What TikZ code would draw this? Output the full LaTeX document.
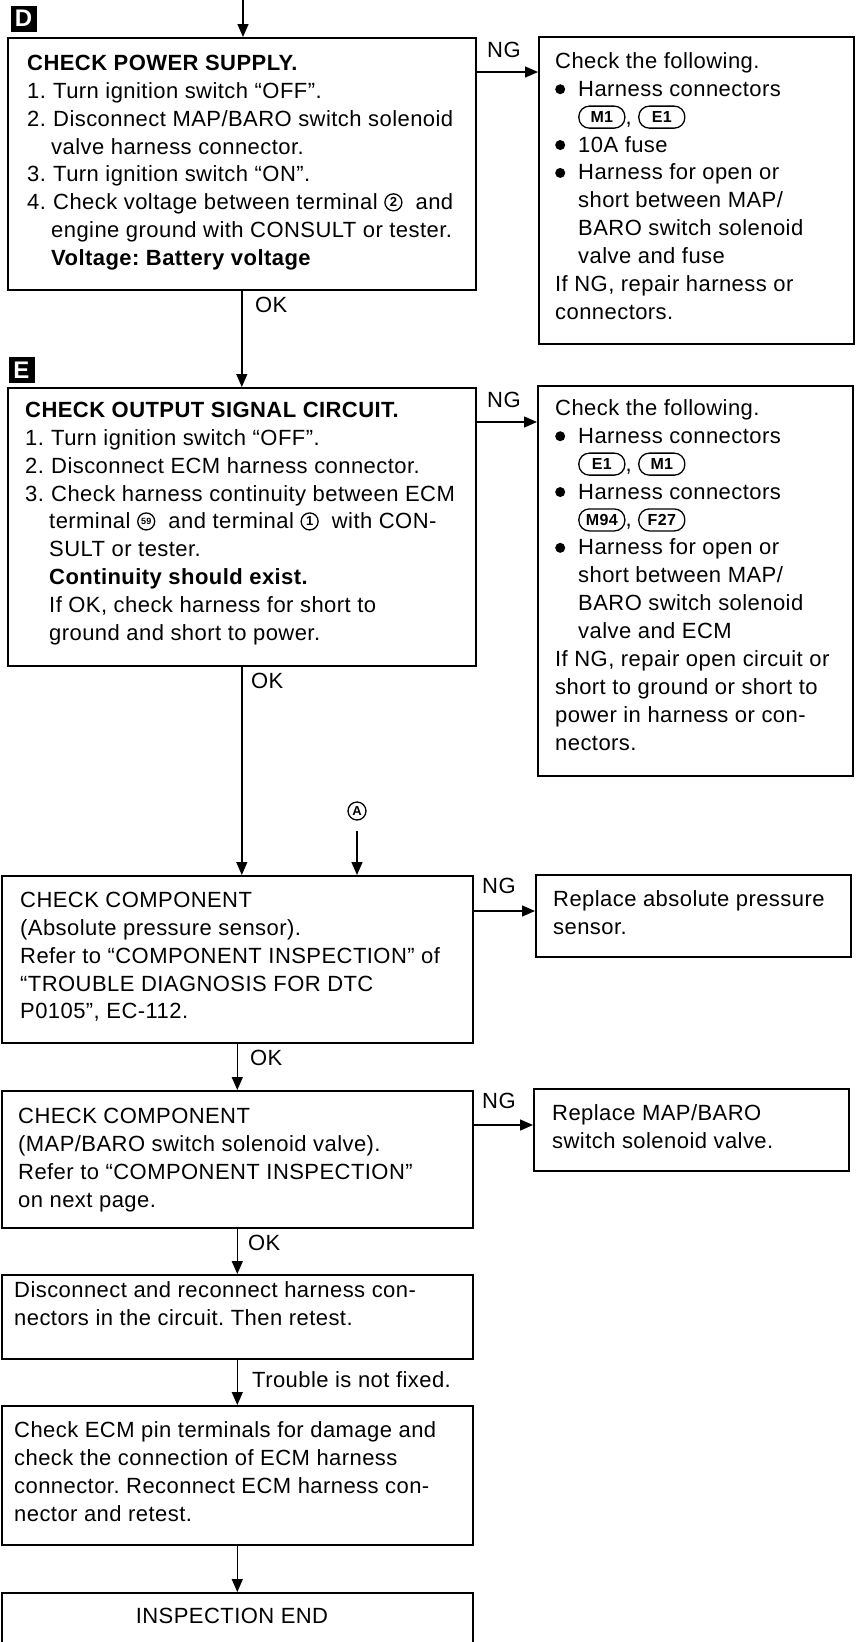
\documentclass[tikz,border=0pt]{standalone}
\usepackage{fontspec}
\setmainfont{Liberation Sans}[LetterSpace=2]
\usetikzlibrary{arrows.meta,positioning}

\tikzset{
  box/.style={draw, line width=1.6pt, rectangle, inner sep=0pt, anchor=north west},
  txt/.style={anchor=north west, inner sep=0pt, align=left, font=\fontsize{22}{27.9}\selectfont},
  lbl/.style={anchor=base west, inner sep=0pt, font=\fontsize{22}{25}\selectfont},
  tag/.style={fill=black, text=white, minimum size=26pt, inner sep=0pt, font=\bfseries\fontsize{24}{24}\selectfont},
  arr/.style={line width=1.4pt, -{Triangle[length=13pt,width=11pt]}},
}
\newcommand{\itm}[1]{\makebox[26pt][l]{#1}}
\newcommand{\cnt}{\hspace*{24pt}}
\newcommand{\bul}{\makebox[23pt][l]{\tikz[baseline={([yshift=-7pt]bb.center)}]\node[circle,fill,inner sep=0pt,minimum size=10pt](bb){};}}
\newcommand{\connector}[1]{\tikz[baseline={([yshift=-7pt]cc.center)}]\node[draw,line width=1.3pt,rounded corners=10.5pt,minimum width=46pt,minimum height=22pt,inner sep=0pt,font=\bfseries\fontsize{16}{16}\selectfont](cc){#1};}
\newcommand{\circnum}[2][13]{\tikz[baseline={([yshift=-7.5pt]cn.center)}]\node[circle,draw,line width=1.3pt,minimum size=17pt,inner sep=0pt,font=\bfseries\fontsize{#1}{#1}\selectfont](cn){#2};}

\begin{document}
\frenchspacing
\begin{tikzpicture}[x=1pt, y=-1pt]
  \useasboundingbox (0,0) rectangle (858,1642);

  % step D
  \node[tag] (tagd) at (23.5,18.5) {D};
  \node[box, minimum width=468pt, minimum height=252pt] (d) at (7,37) {};
  \node[txt] (dtxt) at (27,50.6) {\strut\textbf{CHECK POWER SUPPLY.}\\
    \itm{1.}Turn ignition switch “OFF”.\\
    \itm{2.}Disconnect MAP/BARO switch solenoid\\
    \cnt valve harness connector.\\
    \itm{3.}Turn ignition switch “ON”.\\
    \itm{4.}Check voltage between terminal \circnum{2}\ \ and\\
    \cnt engine ground with CONSULT or tester.\\
    \cnt\textbf{Voltage: Battery voltage}};
  \node[box, minimum width=315pt, minimum height=307pt] (r1) at (538,36) {};
  \node[txt] (r1txt) at (555,48.6) {\strut Check the following.\\
    \bul Harness connectors\\
    \hspace*{23pt}\connector{M1}, \connector{E1}\\
    \bul 10A fuse\\
    \bul Harness for open or\\
    \hspace*{23pt}short between MAP/\\
    \hspace*{23pt}BARO switch solenoid\\
    \hspace*{23pt}valve and fuse\\
    If NG, repair harness or\\
    connectors.};
  \node[lbl] (ngd) at (487,57) {NG};
  \node[lbl] (okd) at (255,312) {OK};

  % step E
  \node[tag] (tage) at (21.5,370) {E};
  \node[box, minimum width=468pt, minimum height=278pt] (e) at (7,387) {};
  \node[txt] (etxt) at (25,397.6) {\strut\textbf{CHECK OUTPUT SIGNAL CIRCUIT.}\\
    \itm{1.}Turn ignition switch “OFF”.\\
    \itm{2.}Disconnect ECM harness connector.\\
    \itm{3.}Check harness continuity between ECM\\
    \cnt terminal \circnum[9]{59}\ \ and terminal \circnum{1}\ \ with CON-\\
    \cnt SULT or tester.\\
    \cnt\textbf{Continuity should exist.}\\
    \cnt If OK, check harness for short to\\
    \cnt ground and short to power.};
  \node[box, minimum width=315pt, minimum height=390pt] (r2) at (537,385) {};
  \node[txt] (r2txt) at (555,395.6) {\strut Check the following.\\
    \bul Harness connectors\\
    \hspace*{23pt}\connector{E1}, \connector{M1}\\
    \bul Harness connectors\\
    \hspace*{23pt}\connector{M94}, \connector{F27}\\
    \bul Harness for open or\\
    \hspace*{23pt}short between MAP/\\
    \hspace*{23pt}BARO switch solenoid\\
    \hspace*{23pt}valve and ECM\\
    If NG, repair open circuit or\\
    short to ground or short to\\
    power in harness or con-\\
    nectors.};
  \node[lbl] (nge) at (487,407) {NG};
  \node[lbl] (oke) at (251,688) {OK};

  % components
  \node[circle, draw, line width=1.3pt, minimum size=18pt, inner sep=0pt, font=\bfseries\fontsize{13}{13}\selectfont] (a) at (357,811) {A};
  \node[box, minimum width=471pt, minimum height=167pt] (c3) at (1,875) {};
  \node[txt] (c3txt) at (20,887.6) {\strut CHECK COMPONENT\\
    (Absolute pressure sensor).\\
    Refer to “COMPONENT INSPECTION” of\\
    “TROUBLE DIAGNOSIS FOR DTC\\
    P0105”, EC-112.};
  \node[box, minimum width=315pt, minimum height=82pt] (rep1) at (535,874) {};
  \node[txt] (rep1txt) at (553,886.6) {\strut Replace absolute pressure\\sensor.};
  \node[lbl] (ng3) at (482,893) {NG};
  \node[lbl] (ok3) at (250,1065) {OK};

  \node[box, minimum width=471pt, minimum height=137pt] (c4) at (1,1090) {};
  \node[txt] (c4txt) at (18,1103.6) {\strut CHECK COMPONENT\\
    (MAP/BARO switch solenoid valve).\\
    Refer to “COMPONENT INSPECTION”\\
    on next page.};
  \node[box, minimum width=315pt, minimum height=82pt] (rep2) at (533,1088) {};
  \node[txt] (rep2txt) at (552,1100.6) {\strut Replace MAP/BARO\\switch solenoid valve.};
  \node[lbl] (ng4) at (482,1108) {NG};
  \node[lbl] (ok4) at (248,1250) {OK};

  \node[box, minimum width=471pt, minimum height=84pt] (c5) at (1,1274) {};
  \node[txt] (c5txt) at (14,1277.6) {\strut Disconnect and reconnect harness con-\\
    nectors in the circuit. Then retest.};
  \node[lbl] (notfixed) at (252,1387) {Trouble is not fixed.};

  \node[box, minimum width=471pt, minimum height=139pt] (c6) at (1,1405) {};
  \node[txt] (c6txt) at (14,1417.6) {\strut Check ECM pin terminals for damage and\\
    check the connection of ECM harness\\
    connector. Reconnect ECM harness con-\\
    nector and retest.};

  \node[box, minimum width=471pt, minimum height=90pt] (c7) at (1,1592) {};
  \node[lbl, anchor=base] (c7txt) at (232,1623) {INSPECTION END};

  % connectors
  \coordinate (start) at (243,0);
  \draw[arr] (start) -- (start |- d.north);
  \draw[arr] ([yshift=-35pt]d.north east) -- ([yshift=-36pt]r1.north west);
  \draw[arr] (d.south) -- (e.north);
  \draw[arr] ([yshift=-35pt]e.north east) -- ([yshift=-37pt]r2.north west);
  \draw[arr] (e.south) -- (e.south |- c3.north);
  \draw[arr, shorten <=10pt] (a.south) -- (a.south |- c3.north);
  \draw[arr] ([yshift=-36pt]c3.north east) -- ([yshift=-37pt]rep1.north west);
  \draw[arr] (c3.south) -- (c4.north);
  \draw[arr] ([yshift=-35pt]c4.north east) -- ([yshift=-37pt]rep2.north west);
  \draw[arr] (c4.south) -- (c5.north);
  \draw[arr] (c5.south) -- (c6.north);
  \draw[arr] (c6.south) -- (c7.north);
\end{tikzpicture}
\end{document}
